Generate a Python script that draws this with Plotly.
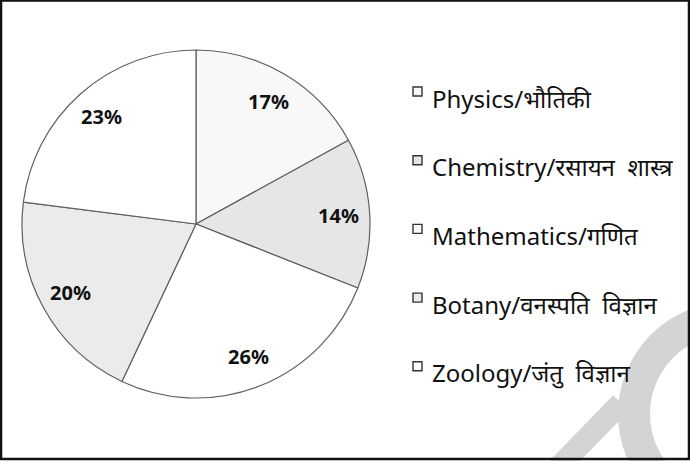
import math
import plotly.graph_objects as go

subjects = ["Physics/भौतिकी", "Chemistry/रसायन  शास्त्र", "Mathematics/गणित",
            "Botany/वनस्पति  विज्ञान", "Zoology/जंतु  विज्ञान"]
shares = [17, 14, 26, 20, 23]
slice_colors = ["#f8f8f8", "#e6e6e6", "#ffffff", "#ebebeb", "#ffffff"]

W, H = 690, 461
# pie geometry (pixels)
CX, CY, R = 196, 224, 174
fig = go.Figure()
fig.add_trace(go.Pie(
    labels=subjects, values=shares, sort=False, direction="clockwise", rotation=0,
    marker=dict(colors=slice_colors, line=dict(color="#5f5f5f", width=1.2)),
    textinfo="none",
    domain=dict(x=[(CX - R) / W, (CX + R) / W], y=[1 - (CY + R) / H, 1 - (CY - R) / H]),
    showlegend=False, hoverinfo="label+percent",
))

shapes = []
annotations = []

# percentage labels placed on each slice's bisector
total = sum(shares)
cum = 0
for v in shares:
    mid = (cum + v / 2) / total * 2 * math.pi
    cum += v
    px = CX + 0.82 * R * math.sin(mid)
    py = CY - 0.82 * R * math.cos(mid)
    annotations.append(dict(text=f"<b>{v}%</b>", xref="paper", yref="paper",
                            x=px / W, y=1 - py / H, xanchor="center", yanchor="middle",
                            showarrow=False,
                            font=dict(family="Noto Sans", size=20, color="#111111")))

# watermark (light gray strokes, bottom-right)
shapes.append(dict(type="circle", xref="paper", yref="paper", layer="below",
                   x0=(730 - 96) / W, x1=(730 + 96) / W, y0=1 - (414 + 96) / H, y1=1 - (414 - 96) / H,
                   line=dict(color="#d4d4d4", width=32)))
shapes.append(dict(type="line", xref="paper", yref="paper", layer="below",
                   x0=558 / W, y0=1 - 468 / H, x1=621 / W, y1=1 - 403 / H,
                   line=dict(color="#d4d4d4", width=22)))

# legend drawn manually
top, step = 98, 68.7
for i, (lab, col) in enumerate(zip(subjects, slice_colors)):
    yc = top + i * step
    shapes.append(dict(type="rect", xref="paper", yref="paper",
                       x0=413 / W, x1=422 / W, y0=1 - (yc - 2) / H, y1=1 - (yc - 11) / H,
                       fillcolor=col, line=dict(color="#333333", width=1.4)))
    annotations.append(dict(text=lab, xref="paper", yref="paper", x=430 / W, y=1 - yc / H,
                            xanchor="left", yanchor="middle", showarrow=False,
                            font=dict(family="Noto Sans", size=24, color="#111111")))

# outer border
shapes.append(dict(type="rect", xref="paper", yref="paper",
                   x0=1 / W, x1=1 - 1 / W, y0=2 / H, y1=1 - 0.5 / H,
                   line=dict(color="#111111", width=2.5)))

fig.update_layout(width=W, height=H, margin=dict(l=0, r=0, t=0, b=0),
                  paper_bgcolor="white", plot_bgcolor="white",
                  shapes=shapes, annotations=annotations)
fig.write_html("out.html", config={"displayModeBar": False},
               post_script="document.body.style.margin='0';document.body.style.overflow='hidden';")
